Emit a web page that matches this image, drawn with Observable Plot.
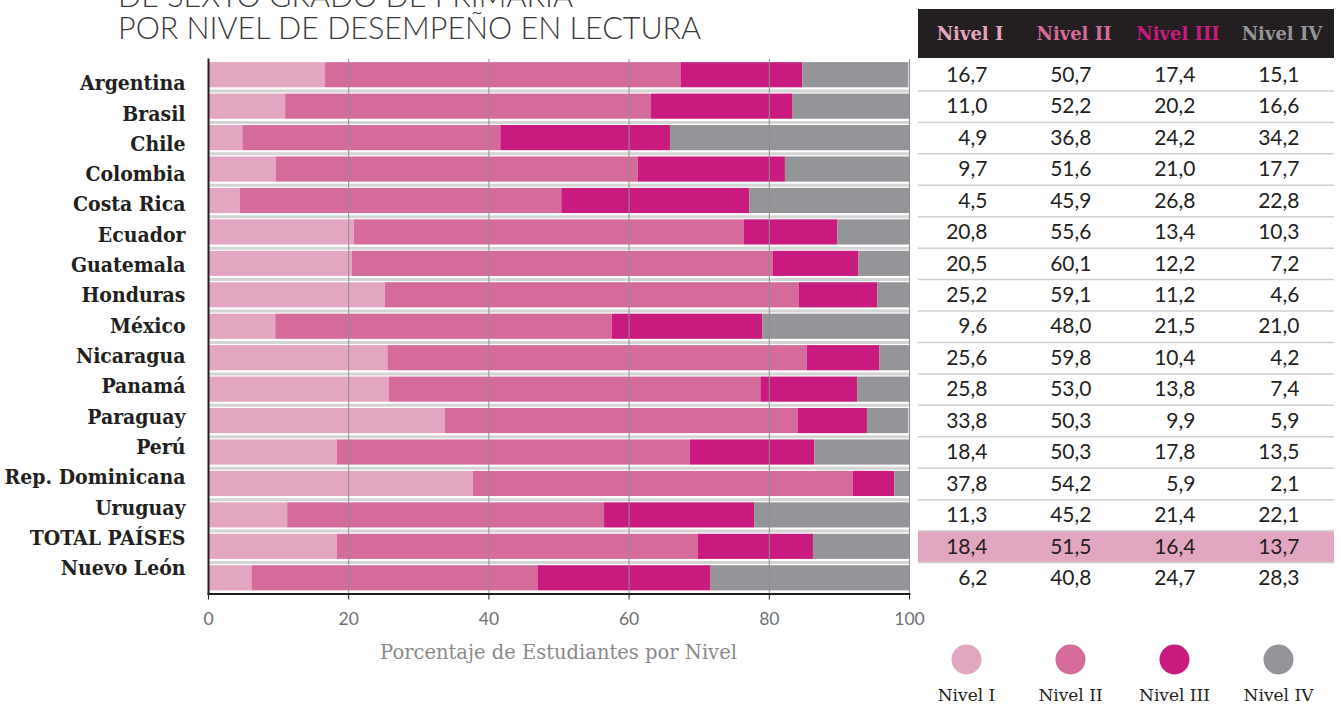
<!DOCTYPE html>
<html><head><meta charset="utf-8">
<script src="https://cdn.jsdelivr.net/npm/d3@7"></script>
<script src="https://cdn.jsdelivr.net/npm/@observablehq/plot@0.6"></script>
<style>
body{margin:0;background:#fff;width:1341px;height:705px;overflow:hidden;position:relative;font-family:Lato,sans-serif}
#title{position:absolute;left:118px;top:-21px;font:300 30.5px/32px Lato,sans-serif;color:#3a3a3a;white-space:nowrap}
#chart,#labels{position:absolute;left:0;top:50px}
#xlabel{position:absolute;left:208px;width:701px;top:641px;text-align:center;font:19.5px/24px "DejaVu Serif",serif;color:#8a8a8a}
#thead{position:absolute;left:918px;top:9px;width:416px;height:49px;background:#231f20;display:flex}
#thead div{flex:1;text-align:center;font:bold 18px/49px "DejaVu Serif",serif}
#table{position:absolute;left:918px;top:50px}
#legend{position:absolute;left:914px;top:630px}
svg{overflow:visible;display:block}
</style></head><body>
<div id="title">DE SEXTO GRADO DE PRIMARIA<br>POR NIVEL DE DESEMPEÑO EN LECTURA</div>
<div id="chart"></div>
<div id="labels"></div>
<div id="xlabel">Porcentaje de Estudiantes por Nivel</div>
<div id="thead"></div>
<div id="table"></div>
<div id="legend"></div>
<script>
const countries = ["Argentina","Brasil","Chile","Colombia","Costa Rica","Ecuador","Guatemala","Honduras","México","Nicaragua","Panamá","Paraguay","Perú","Rep. Dominicana","Uruguay","TOTAL PAÍSES","Nuevo León"];
const levels = ["Nivel I","Nivel II","Nivel III","Nivel IV"];
const levelColors = ["#e2a6c0","#d46b9a","#c91a7f","#939598"];
const nivelI   = [16.7,11.0,4.9,9.7,4.5,20.8,20.5,25.2,9.6,25.6,25.8,33.8,18.4,37.8,11.3,18.4,6.2];
const nivelII  = [50.7,52.2,36.8,51.6,45.9,55.6,60.1,59.1,48.0,59.8,53.0,50.3,50.3,54.2,45.2,51.5,40.8];
const nivelIII = [17.4,20.2,24.2,21.0,26.8,13.4,12.2,11.2,21.5,10.4,13.8,9.9,17.8,5.9,21.4,16.4,24.7];
const nivelIV  = [15.1,16.6,34.2,17.7,22.8,10.3,7.2,4.6,21.0,4.2,7.4,5.9,13.5,2.1,22.1,13.7,28.3];
const xTicks = [0,20,40,60,80,100];
const gridTicks = [20,40,60,80,100];
const highlight = "TOTAL PAÍSES";

const series = [nivelI, nivelII, nivelIII, nivelIV];
const long = countries.flatMap((c,i) => levels.map((l,j) => ({country: c, level: l, value: series[j][i]})));
const fmt = v => v.toFixed(1).replace(".", ",");

const H = 640, MT = 9, MB = 96.5;
const step = (H - MT - MB) / countries.length;

const chart = Plot.plot({
  width: 930, height: H, marginLeft: 208, marginRight: 21, marginTop: MT, marginBottom: MB,
  x: {domain: [0, 100], axis: null},
  y: {domain: countries, paddingInner: 0.2, paddingOuter: 0.1, round: false, axis: null},
  color: {domain: levels, range: levelColors},
  marks: [
    Plot.ruleY(countries.slice(1), {y: d => d, x1: 0, x2: 100, dy: -step/2, stroke: "#d4d4d4", strokeWidth: 3}),
    Plot.barX(long, {x: "value", y: "country", fill: "level"}),
    Plot.gridX({ticks: gridTicks, stroke: "#8f8f8f", strokeOpacity: 1, strokeWidth: 1}),
    Plot.frame({anchor: "left", stroke: "#231f20", strokeWidth: 2}),
    Plot.frame({anchor: "bottom", stroke: "#231f20", strokeWidth: 2}),
    Plot.axisX({ticks: xTicks, tickSize: 6, tickPadding: 13, fontSize: 17.5, fontFamily: "Lato", stroke: "#231f20", fill: "#6f6f72", color: "#6f6f72", label: null})
  ]
});
document.getElementById("chart").append(chart);

// country labels (own row spacing, as in the reference)
const labels = Plot.plot({
  width: 208, height: H, margin: 0, marginTop: 17.8, marginBottom: 106.9,
  y: {domain: countries, type: "band", padding: 0, round: false, axis: null},
  marks: [
    Plot.text(countries, {y: d => d, text: d => d, frameAnchor: "right", textAnchor: "end", dx: -23,
      fontSize: 21, fontWeight: "bold", fontFamily: "DejaVu Serif Condensed, DejaVu Serif", fill: "#231f20"})
  ]
});
document.getElementById("labels").append(labels);

// table header
const th = document.getElementById("thead");
levels.forEach((l, j) => { const d = document.createElement("div"); d.textContent = l; d.style.color = levelColors[j]; th.append(d); });

// table body
const table = Plot.plot({
  width: 416, height: H, margin: 0, marginTop: MT, marginBottom: MB,
  x: {domain: levels, type: "band", padding: 0, round: false, axis: null},
  y: {domain: countries, type: "band", padding: 0, round: false, axis: null},
  marks: [
    Plot.cell([highlight], {y: d => d, fill: "#e2a6c0"}),
    Plot.ruleY(countries.slice(1), {y: d => d, dy: -step/2, stroke: "#cfcfcf", strokeWidth: 1.5}),
    Plot.text(long, {x: "level", y: "country", text: d => fmt(d.value), textAnchor: "end", dx: 17, fontSize: 21, fontFamily: "Lato", fill: "#231f20"})
  ]
});
document.getElementById("table").append(table);

// legend
const legend = Plot.plot({
  width: 416, height: 75, margin: 0,
  x: {domain: levels, type: "band", padding: 0, round: false, axis: null},
  color: {domain: levels, range: levelColors},
  marks: [
    Plot.dot(levels, {x: d => d, frameAnchor: "top", dy: 29, r: 15, fill: d => d, stroke: null}),
    Plot.text(levels, {x: d => d, frameAnchor: "top", lineAnchor: "middle", dy: 65, text: d => d, fontSize: 17, fontFamily: "DejaVu Serif", fill: "#231f20"})
  ]
});
document.getElementById("legend").append(legend);
</script>
</body></html>
